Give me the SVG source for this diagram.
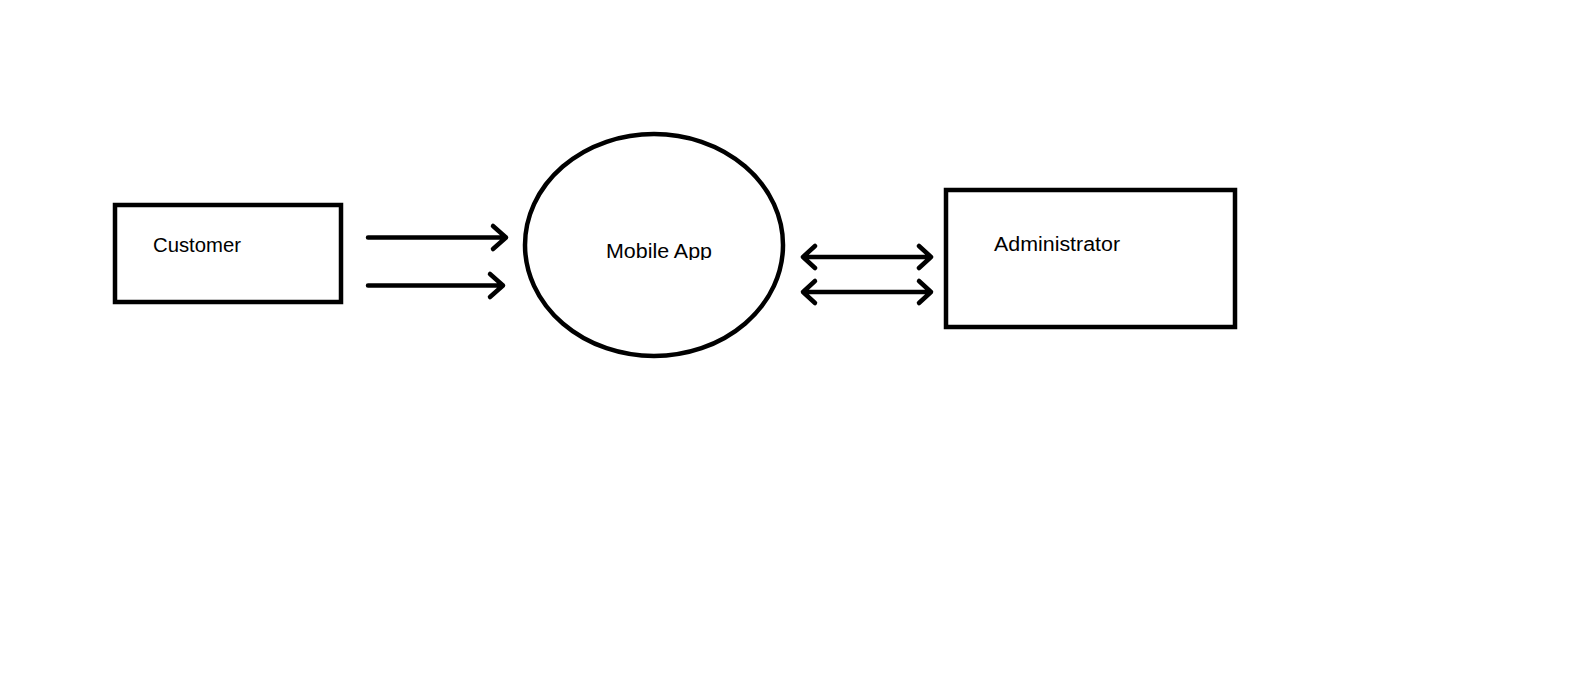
<svg xmlns="http://www.w3.org/2000/svg" width="1572" height="692" viewBox="0 0 1572 692">
<style>
.box{fill:#fff;stroke:#000;stroke-width:4.5}
.lbl{font-family:"Liberation Sans",Arial,sans-serif;font-size:20px;fill:#000}
.conn{fill:none;stroke:#000;stroke-width:4.5;stroke-linecap:round;stroke-linejoin:round}
</style>
<defs>
<clipPath id="clipApp"><rect x="560" y="200" width="200" height="60"/></clipPath>
</defs>
<rect width="1572" height="692" fill="#fff"/>
<g id="customer">
<rect class="box" x="115" y="205" width="226" height="97"/>
<text class="lbl" x="153" y="252" textLength="88" lengthAdjust="spacingAndGlyphs">Customer</text>
</g>
<g id="mobile-app">
<ellipse class="box" cx="654" cy="245" rx="129" ry="111"/>
<text class="lbl" x="606" y="258" textLength="106" lengthAdjust="spacingAndGlyphs" clip-path="url(#clipApp)">Mobile App</text>
</g>
<g id="administrator">
<rect class="box" x="946" y="190" width="289" height="137"/>
<text class="lbl" x="994" y="251" textLength="126" lengthAdjust="spacingAndGlyphs">Administrator</text>
</g>
<g id="connectors">
<path class="conn" d="M368 237.5H506M493 226L506 237.5L493 249"/>
<path class="conn" d="M368 285.5H503M490 274L503 285.5L490 297"/>
<path class="conn" d="M803 257H931M815 246L803 257L815 268M919 246L931 257L919 268"/>
<path class="conn" d="M803 292H931M815 281L803 292L815 303M919 281L931 292L919 303"/>
</g>
</svg>
